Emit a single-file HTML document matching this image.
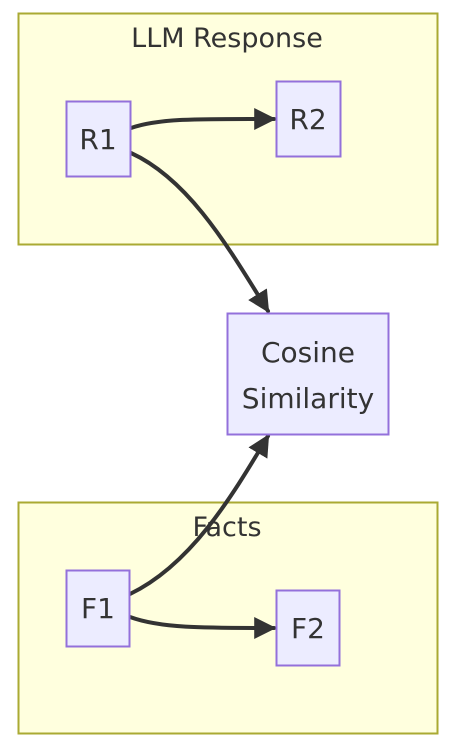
<!DOCTYPE html>
<html><head><meta charset="utf-8"><style>
html,body{margin:0;padding:0;background:#fff;}
svg{display:block;}
text{font-family:"DejaVu Sans","Liberation Sans",sans-serif;fill:#333;}
</style></head><body>
<svg width="455" height="749" viewBox="0 0 455 749">
<defs><marker id="ah" viewBox="0 0 10 10" refX="9" refY="5" markerWidth="22" markerHeight="22" orient="auto" markerUnits="userSpaceOnUse"><path d="M0,0L10,5L0,10z" fill="#333"/></marker></defs>
<g>
<rect x="18.5" y="13.5" width="419" height="231" fill="#ffffde" stroke="#aaaa33" stroke-width="2"/>
<text x="227" y="47" text-anchor="middle" font-size="27">LLM Response</text>
</g>
<g>
<rect x="18.5" y="502.5" width="419" height="231" fill="#ffffde" stroke="#aaaa33" stroke-width="2"/>
<text x="227" y="536" text-anchor="middle" font-size="27">Facts</text>
</g>
<g fill="none" stroke="#333" stroke-width="4" stroke-linecap="round">
<path d="M131,128 C160,118 200,119 274,119" marker-end="url(#ah)"/>
<path d="M131,153 C190,180 230,250 268,311" marker-end="url(#ah)"/>
<path d="M130,594 C190,565 230,500 268,436" marker-end="url(#ah)"/>
<path d="M130,617 C160,628 200,628 274,628" marker-end="url(#ah)"/>
</g>
<g stroke="#9370db" stroke-width="2" fill="#ececff">
<rect x="66.5" y="101.5" width="64" height="75"/>
<rect x="276.5" y="81.5" width="64" height="75"/>
<rect x="227.5" y="313.5" width="161" height="121"/>
<rect x="66.5" y="570.5" width="63" height="76"/>
<rect x="276.5" y="590.5" width="63" height="75"/>
</g>
<g font-size="28" text-anchor="middle">
<text x="98" y="149">R1</text>
<text x="308" y="129">R2</text>
<text x="308" y="362">Cosine</text>
<text x="308" y="408">Similarity</text>
<text x="98" y="618">F1</text>
<text x="308" y="638">F2</text>
</g>
</svg>
</body></html>
